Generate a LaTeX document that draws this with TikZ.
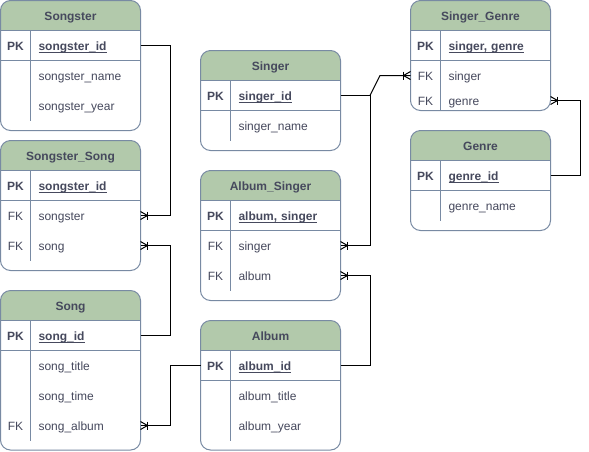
\documentclass[tikz,border=0pt]{standalone}
\usepackage{fontspec}
\setmainfont{Liberation Sans}
\definecolor{headc}{HTML}{B2C9AB}
\definecolor{strokec}{HTML}{788AA3}
\definecolor{fontc}{HTML}{46495D}
\newcommand\sz{\fontsize{12pt}{14pt}\selectfont}
\newcommand\keyname[1]{\setbox0\hbox{\bfseries #1}\rlap{\rule[-2.4pt]{\wd0}{1.1pt}}\box0}
\tikzset{
  tblbox/.style={draw=strokec, line width=1pt, rounded corners=10pt, inner sep=0pt, outer sep=0pt, anchor=north west},
  gridl/.style={draw=strokec, line width=1pt},
  txt/.style={text=fontc, inner sep=0pt, text height=12pt, text depth=2pt},
  ttl/.style={txt, font=\sz\bfseries},
  keyl/.style={txt, font=\sz},
  pkl/.style={txt, font=\sz\bfseries},
  fld/.style={txt, font=\sz, anchor=west, text width=94pt, inner xsep=8pt, outer sep=0pt, align=left},
  rel/.style={draw=black, line width=1pt},
}
% #1 name, #2 left, #3 top, #4 height, #5 title, #6 separator length below top
\newcommand\ertable[6]{%
  \begin{scope}
    \clip[rounded corners=10pt] (#2,#3) rectangle ++(140,#4);
    \fill[white] (#2,#3) rectangle ++(140,#4);
    \fill[headc] (#2,#3) rectangle ++(140,30);
  \end{scope}
  \draw[gridl] (#2,#3+30) -- ++(140,0);
  \draw[gridl] (#2,#3+60) -- ++(140,0);
  \draw[gridl] (#2+30,#3+30) -- (#2+30,#3+#6);
  \node[tblbox, minimum width=140pt, minimum height=#4pt] (#1) at (#2,#3) {};
  \node[ttl] (#1-title) at (#2+70,#3+15) {#5};
}
\newcommand\crowR[1]{%
  \draw[rel] ([shift={(7pt,4pt)}]#1) -- ([shift={(7pt,-4pt)}]#1);
  \draw[rel] ([shift={(0pt,4pt)}]#1) -- ([shift={(7pt,0pt)}]#1) -- ([shift={(0pt,-4pt)}]#1);
}
\newcommand\crowL[1]{%
  \draw[rel] ([shift={(-7pt,4pt)}]#1) -- ([shift={(-7pt,-4pt)}]#1);
  \draw[rel] ([shift={(0pt,4pt)}]#1) -- ([shift={(-7pt,0pt)}]#1) -- ([shift={(0pt,-4pt)}]#1);
}
\begin{document}
\begin{tikzpicture}[x=1pt,y=-1pt]
\useasboundingbox (0,0) rectangle (589,451);

% Songster
\ertable{Songster}{0.5}{0.5}{130}{Songster}{120}
\node[pkl] (k_songster_pk) at (15.5,45.5) {PK};
\node[fld] (songster_id) at (30.5,45.5) {\keyname{songster\_id}};
\node[fld] (songster_name) at (30.5,75.5) {songster\_name};
\node[fld] (songster_year) at (30.5,105.5) {songster\_year};

% Songster_Song
\ertable{SongsterSong}{0.5}{140.5}{130}{Songster\_Song}{120}
\node[pkl] (k_ss_pk) at (15.5,185.5) {PK};
\node[fld] (ss_pk) at (30.5,185.5) {\keyname{songster\_id}};
\node[keyl] (k_ss_songster) at (15.5,215.5) {FK};
\node[fld] (ss_songster) at (30.5,215.5) {songster};
\node[keyl] (k_ss_song) at (15.5,245.5) {FK};
\node[fld] (ss_song) at (30.5,245.5) {song};

% Song
\ertable{Song}{0.5}{290.5}{159.5}{Song}{150}
\node[pkl] (k_song_pk) at (15.5,335.5) {PK};
\node[fld] (song_id) at (30.5,335.5) {\keyname{song\_id}};
\node[fld] (song_title) at (30.5,365.5) {song\_title};
\node[fld] (song_time) at (30.5,395.5) {song\_time};
\node[keyl] (k_song_album) at (15.5,425.5) {FK};
\node[fld] (song_album) at (30.5,425.5) {song\_album};

% Singer
\ertable{Singer}{200.5}{50.5}{100}{Singer}{90}
\node[pkl] (k_singer_pk) at (215.5,95.5) {PK};
\node[fld] (singer_id) at (230.5,95.5) {\keyname{singer\_id}};
\node[fld] (singer_name) at (230.5,125.5) {singer\_name};

% Album_Singer
\ertable{AlbumSinger}{200.5}{170.5}{130}{Album\_Singer}{120}
\node[pkl] (k_as_pk) at (215.5,215.5) {PK};
\node[fld] (as_pk) at (230.5,215.5) {\keyname{album, singer}};
\node[keyl] (k_as_singer) at (215.5,245.5) {FK};
\node[fld] (as_singer) at (230.5,245.5) {singer};
\node[keyl] (k_as_album) at (215.5,275.5) {FK};
\node[fld] (as_album) at (230.5,275.5) {album};

% Album
\ertable{Album}{200.5}{320.5}{129.5}{Album}{120}
\node[pkl] (k_album_pk) at (215.5,365.5) {PK};
\node[fld] (album_id) at (230.5,365.5) {\keyname{album\_id}};
\node[fld] (album_title) at (230.5,395.5) {album\_title};
\node[fld] (album_year) at (230.5,425.5) {album\_year};

% Singer_Genre
\ertable{SingerGenre}{410.5}{0.5}{110}{Singer\_Genre}{110}
\node[pkl] (k_sg_pk) at (425.5,45.5) {PK};
\node[fld] (sg_pk) at (440.5,45.5) {\keyname{singer, genre}};
\node[keyl] (k_sg_singer) at (425.5,75.5) {FK};
\node[fld] (sg_singer) at (440.5,75.5) {singer};
\node[keyl] (k_sg_genre) at (425.5,100.5) {FK};
\node[fld] (sg_genre) at (440.5,100.5) {genre};

% Genre
\ertable{Genre}{410.5}{130.5}{100}{Genre}{90}
\node[pkl] (k_genre_pk) at (425.5,175.5) {PK};
\node[fld] (genre_id) at (440.5,175.5) {\keyname{genre\_id}};
\node[fld] (genre_name) at (440.5,205.5) {genre\_name};

% Relations
\draw[rel] (songster_id.east) -- ++(29.5,0) |- (ss_songster.east);
\crowR{ss_songster.east}
\draw[rel] (song_id.east) -- ++(29.5,0) |- (ss_song.east);
\crowR{ss_song.east}
\draw[rel] (Album.west |- album_id) -- ++(-30,0) |- (song_album.east);
\crowR{song_album.east}
\draw[rel] (singer_id.east) -- ++(29.5,0) coordinate (br) |- (as_singer.east);
\crowR{as_singer.east}
\coordinate (sgin) at (SingerGenre.west |- sg_singer);
\draw[rel] (br) -- ++(10,-20) -- (sgin);
\crowL{sgin}
\draw[rel] (album_id.east) -- ++(29.5,0) |- (as_album.east);
\crowR{as_album.east}
\draw[rel] (genre_id.east) -- ++(29.5,0) |- (sg_genre.east);
\crowR{sg_genre.east}
\end{tikzpicture}
\end{document}
